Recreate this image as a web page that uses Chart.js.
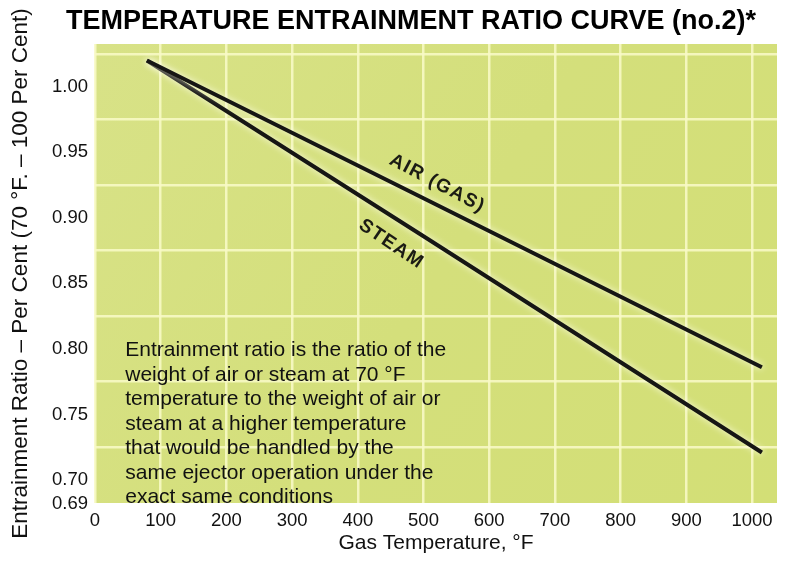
<!DOCTYPE html>
<html>
<head>
<meta charset="utf-8">
<script src="https://cdn.jsdelivr.net/npm/chart.js@4.4.0/dist/chart.umd.min.js"></script>
<style>
html,body{margin:0;padding:0;background:#ffffff;}
#wrap{width:790px;height:562px;}
</style>
</head>
<body>
<div id="wrap"><canvas id="c" width="790" height="562"></canvas></div>
<script>
// ---- data ----
const temperatures = [79, 500, 1015];
const airRatio = [1.020, 0.915, 0.786];
const steamRatio = [1.020, 0.886, 0.721];

const xTicks = [0, 100, 200, 300, 400, 500, 600, 700, 800, 900, 1000];
const yTicks = [0.69, 0.70, 0.75, 0.80, 0.85, 0.90, 0.95, 1.00];
const yGridValues = [0.725, 0.775, 0.825, 0.875, 0.925, 0.975, 1.025];

const chartTitle = 'TEMPERATURE ENTRAINMENT RATIO CURVE (no.2)*';
const xTitle = 'Gas Temperature, °F';
const yTitle = 'Entrainment Ratio – Per Cent (70 °F. – 100 Per Cent)';
const noteLines = [
  'Entrainment ratio is the ratio of the',
  'weight of air or steam at 70 °F',
  'temperature to the weight of air or',
  'steam at a higher temperature',
  'that would be handled by the',
  'same ejector operation under the',
  'exact same conditions'
];
const curveLabelText = ['AIR (GAS)', 'STEAM'];
const curveLabelX = [521, 451];
const curveLabelY = [0.9262, 0.880];
const curveLabelAngle = [28, 34];
const noteX = 46;
const noteY = 0.799;

const FONT = '"Liberation Sans", Arial, Helvetica, sans-serif';
Chart.defaults.font.family = FONT;
Chart.defaults.color = '#111111';

const gridColor = 'rgba(248,249,198,0.88)';

const decorPlugin = {
  id: 'decor',
  beforeDraw(chart) {
    const {ctx, chartArea: a} = chart;
    ctx.save();
    const g = ctx.createLinearGradient(a.left, a.top, a.right, a.bottom);
    g.addColorStop(0, '#d8e287');
    g.addColorStop(0.5, '#d4df7b');
    g.addColorStop(1, '#d3df76');
    ctx.fillStyle = g;
    ctx.fillRect(a.left, a.top, a.right - a.left, a.bottom - a.top);
    ctx.restore();
  },
  beforeDatasetsDraw(chart) {
    const ctx = chart.ctx;
    ctx.save();
    ctx.shadowColor = 'rgba(255,255,235,0.95)';
    ctx.shadowBlur = 7;
  },
  afterDatasetsDraw(chart) {
    const ctx = chart.ctx;
    ctx.restore();
    const xs = chart.scales.x, ys = chart.scales.y;
    // curve labels
    ctx.save();
    ctx.fillStyle = '#1b1b14';
    ctx.font = 'bold 19px ' + FONT;
    ctx.textAlign = 'center';
    ctx.textBaseline = 'middle';
    for (let i = 0; i < curveLabelText.length; i++) {
      ctx.save();
      ctx.translate(xs.getPixelForValue(curveLabelX[i]), ys.getPixelForValue(curveLabelY[i]));
      ctx.rotate(curveLabelAngle[i] * Math.PI / 180);
      if ('letterSpacing' in ctx) ctx.letterSpacing = '1.5px';
      ctx.fillText(curveLabelText[i], 0, 0);
      ctx.restore();
    }
    ctx.restore();
    // note
    ctx.save();
    ctx.fillStyle = '#111111';
    ctx.font = '21px ' + FONT;
    ctx.textAlign = 'left';
    ctx.textBaseline = 'middle';
    const nx = xs.getPixelForValue(noteX);
    const ny = ys.getPixelForValue(noteY);
    noteLines.forEach((t, i) => ctx.fillText(t, nx, ny + i * 24.5));
    ctx.restore();
    // title
    ctx.save();
    ctx.fillStyle = '#000000';
    ctx.font = 'bold 27px ' + FONT;
    ctx.textAlign = 'center';
    ctx.textBaseline = 'middle';
    ctx.fillText(chartTitle, 411, 22);
    ctx.restore();
  }
};

new Chart(document.getElementById('c'), {
  type: 'scatter',
  data: {
    datasets: [
      {
        label: curveLabelText[0],
        data: temperatures.map((t, i) => ({x: t, y: airRatio[i]})),
        showLine: true,
        borderColor: '#161614',
        borderWidth: 4,
        pointRadius: 0,
        fill: false
      },
      {
        label: curveLabelText[1],
        data: temperatures.map((t, i) => ({x: t, y: steamRatio[i]})),
        showLine: true,
        borderColor: '#161614',
        borderWidth: 4,
        pointRadius: 0,
        fill: false
      }
    ]
  },
  options: {
    responsive: false,
    animation: false,
    devicePixelRatio: 1,
    layout: {padding: {left: 4, right: 13, top: 44, bottom: 0}},
    plugins: {legend: {display: false}, tooltip: {enabled: false}, title: {display: false}},
    scales: {
      x: {
        type: 'linear',
        min: 0,
        max: 1038,
        afterBuildTicks: s => { s.ticks = xTicks.map(v => ({value: v})); },
        afterFit: s => { s.height = 59; },
        ticks: {font: {size: 18.5}, color: '#111111', padding: 7, maxRotation: 0, autoSkip: false,
          callback: v => String(v)},
        grid: {color: gridColor, lineWidth: 2.5, drawTicks: false},
        border: {display: false},
        title: {display: true, text: xTitle, font: {size: 21}, color: '#111111', padding: {top: 2, bottom: 6}}
      },
      y: {
        type: 'linear',
        min: 0.6825,
        max: 1.0326,
        afterBuildTicks: s => { s.ticks = yTicks.map(v => ({value: v})); },
        afterFit: s => { s.width = 91; },
        ticks: {
          font: {size: 18.5}, color: '#111111', padding: 7, autoSkip: false,
          callback: v => (v === 0.69 ? ['', '0.69'] : v.toFixed(2))
        },
        grid: {display: false, drawTicks: false},
        border: {display: false},
        title: {display: true, text: yTitle, font: {size: 22.5}, color: '#111111', padding: {top: 3, bottom: 4}}
      },
      yg: {
        type: 'linear',
        position: 'right',
        min: 0.6825,
        max: 1.0326,
        afterBuildTicks: s => { s.ticks = yGridValues.map(v => ({value: v})); },
        afterFit: s => { s.width = 0; },
        ticks: {display: false},
        grid: {color: gridColor, lineWidth: 2.5, drawTicks: false},
        border: {display: false}
      }
    }
  },
  plugins: [decorPlugin]
});
</script>
</body>
</html>
